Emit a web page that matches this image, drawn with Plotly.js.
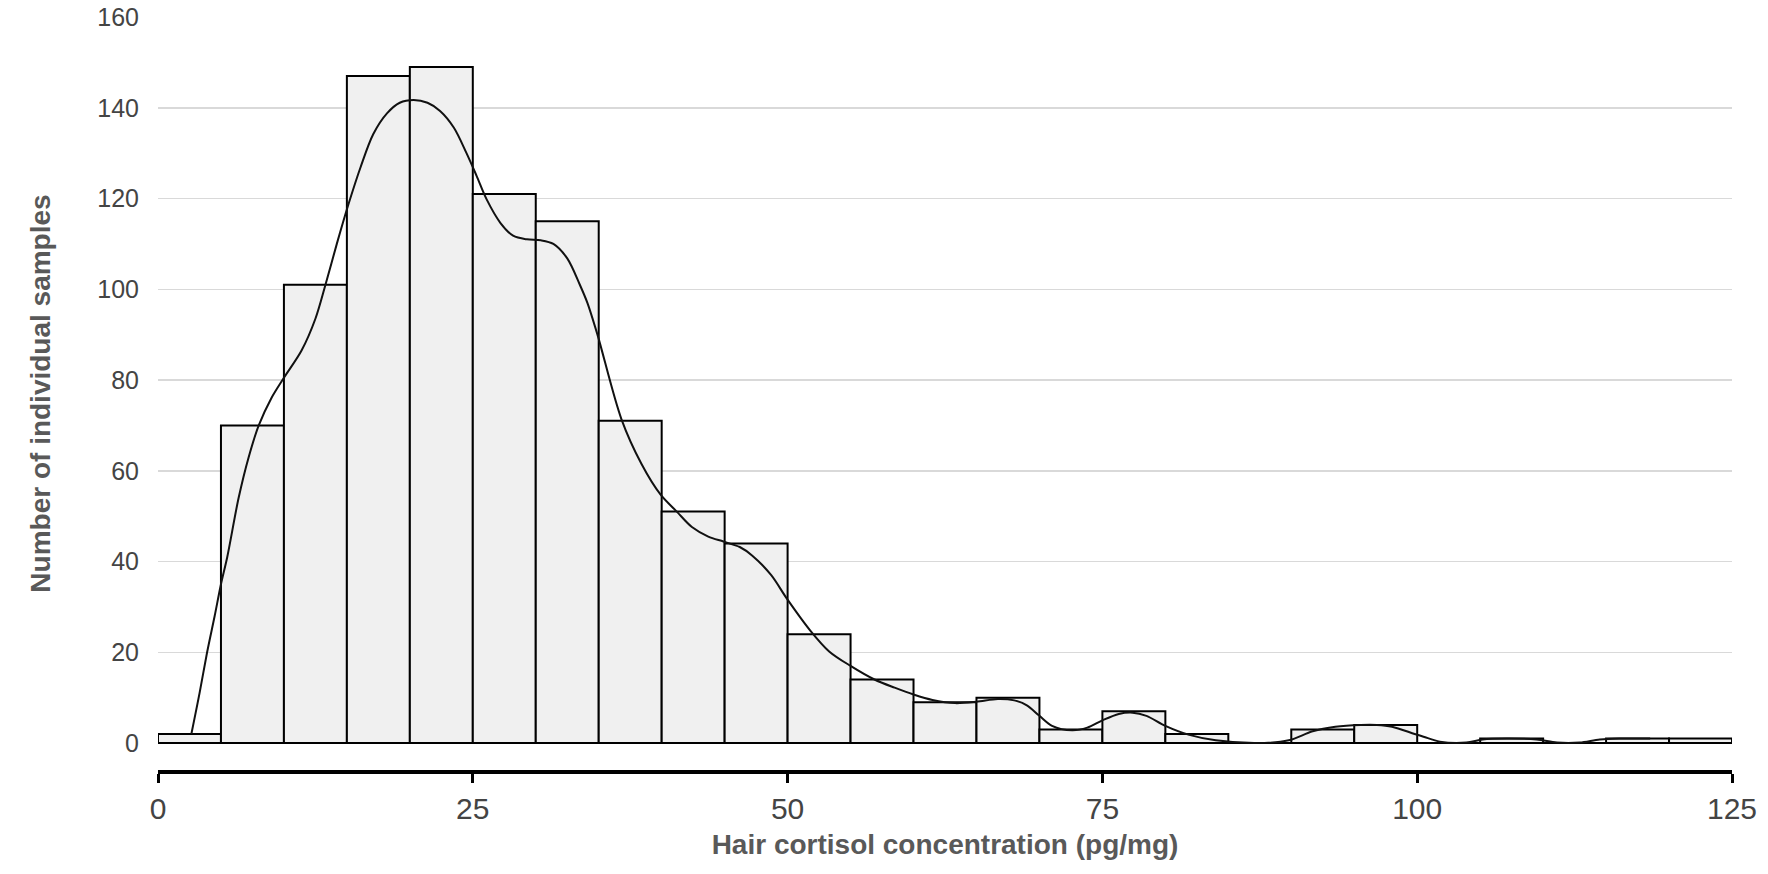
<!DOCTYPE html>
<html>
<head>
<meta charset="utf-8">
<script src="https://cdn.plot.ly/plotly-3.0.1.min.js"></script>
<style>html,body{margin:0;padding:0;background:#fff;}#chart{width:1768px;height:874px;}</style>
</head>
<body>
<div id="chart"></div>
<script>
// Histogram bins (left edges, width 5 pg/mg) and counts
var binStart = [0,5,10,15,20,25,30,35,40,45,50,55,60,65,70,75,80,85,90,95,100,105,110,115,120];
var binWidth = 5;
var counts   = [2,70,101,147,149,121,115,71,51,44,24,14,9,10,3,7,2,0,3,4,0,1,0,1,1];

// Density curve (scaled to counts)
var curveX = [2.65,3.3,3.9,4.5,5.0,5.5,6.4,7.2,8.0,9.0,10.0,11.4,12.5,13.3,14.2,15.1,16.1,17.1,18.2,19.2,20.3,21.4,22.4,23.5,24.5,25.3,26.1,27.2,28.2,29.3,30.4,31.4,32.5,33.5,34.1,34.9,36.8,38.4,39.9,41.2,42.4,43.7,44.9,46.2,47.2,48.7,49.9,51.8,53.3,55.0,56.9,58.5,60.0,61.5,63.3,65.0,66.7,68.0,69.0,70.0,71.0,72.6,73.8,75.0,76.3,77.4,78.5,80.0,81.9,84.0,87.2,89.8,91.7,93.5,95.5,96.8,98.0,99.8,100.5,101.8,103.9,105.2,107.1,109.5,111.1,112.9,114.5,116.1,118.5];
var curveY = [2,11,20,28,35,41,54,63,70,76,80.5,86.5,93.5,101,110,118.5,127,134.2,138.8,141.1,141.7,141.1,139.3,135.6,130,125,119.8,114.6,111.8,111.0,110.8,110.0,106.8,101,97,90,71.4,61.5,54.8,51,47.6,45.5,44.4,43.2,41.3,37,32,24.8,20.2,17,14,12.2,10.7,9.5,8.8,9.1,9.7,9.4,8.3,6.0,3.8,2.8,3.4,5.0,6.4,6.7,6.0,3.8,1.8,0.6,0,0.6,2.6,3.6,4.0,4.0,3.6,2.0,1.4,0.3,0.1,0.8,1.0,0.8,0.1,0.1,0.8,1.0,1.0];

var xTicks = [0,25,50,75,100,125];
var yTicks = [0,20,40,60,80,100,120,140,160];

var font = 'Liberation Sans, Arial, sans-serif';

var bars = {
  type: 'bar',
  x: binStart,
  y: counts,
  width: binWidth,
  offset: 0,
  marker: {color: '#f0f0f0', line: {color: '#000000', width: 2}},
  hoverinfo: 'x+y',
  showlegend: false
};

var curve = {
  type: 'scatter',
  mode: 'lines',
  x: curveX,
  y: curveY,
  line: {color: '#111111', width: 2, shape: 'spline', smoothing: 0.9},
  showlegend: false
};

var layout = {
  width: 1768,
  height: 874,
  margin: {l: 158, r: 36, t: 17, b: 103.5, pad: 0},
  paper_bgcolor: '#ffffff',
  plot_bgcolor: '#ffffff',
  font: {family: font, color: '#444444'},
  bargap: 0,
  xaxis: {
    range: [0, 125],
    tickvals: xTicks,
    ticktext: xTicks.map(String),
    showgrid: false,
    zeroline: false,
    showline: true,
    linecolor: '#000000',
    linewidth: 3.5,
    ticks: 'outside',
    ticklen: 9,
    tickwidth: 3,
    tickcolor: '#000000',
    tickfont: {family: font, size: 30, color: '#444444'},
    title: {text: 'Hair cortisol concentration (pg/mg)', font: {family: font, size: 28, color: '#595959', weight: 'bold'}, standoff: 12}
  },
  yaxis: {
    range: [-5.94, 160],
    tickvals: yTicks,
    ticktext: yTicks.map(String),
    showgrid: true,
    gridcolor: '#d9d9d9',
    gridwidth: 1.5,
    zeroline: false,
    showline: false,
    ticks: '',
    ticklabelstandoff: 18,
    tickfont: {family: font, size: 25, color: '#444444'},
    title: {text: 'Number of individual samples', font: {family: font, size: 28, color: '#595959', weight: 'bold'}, standoff: 38}
  }
};

Plotly.newPlot('chart', [bars, curve], layout, {displayModeBar: false, staticPlot: true});
</script>
</body>
</html>
